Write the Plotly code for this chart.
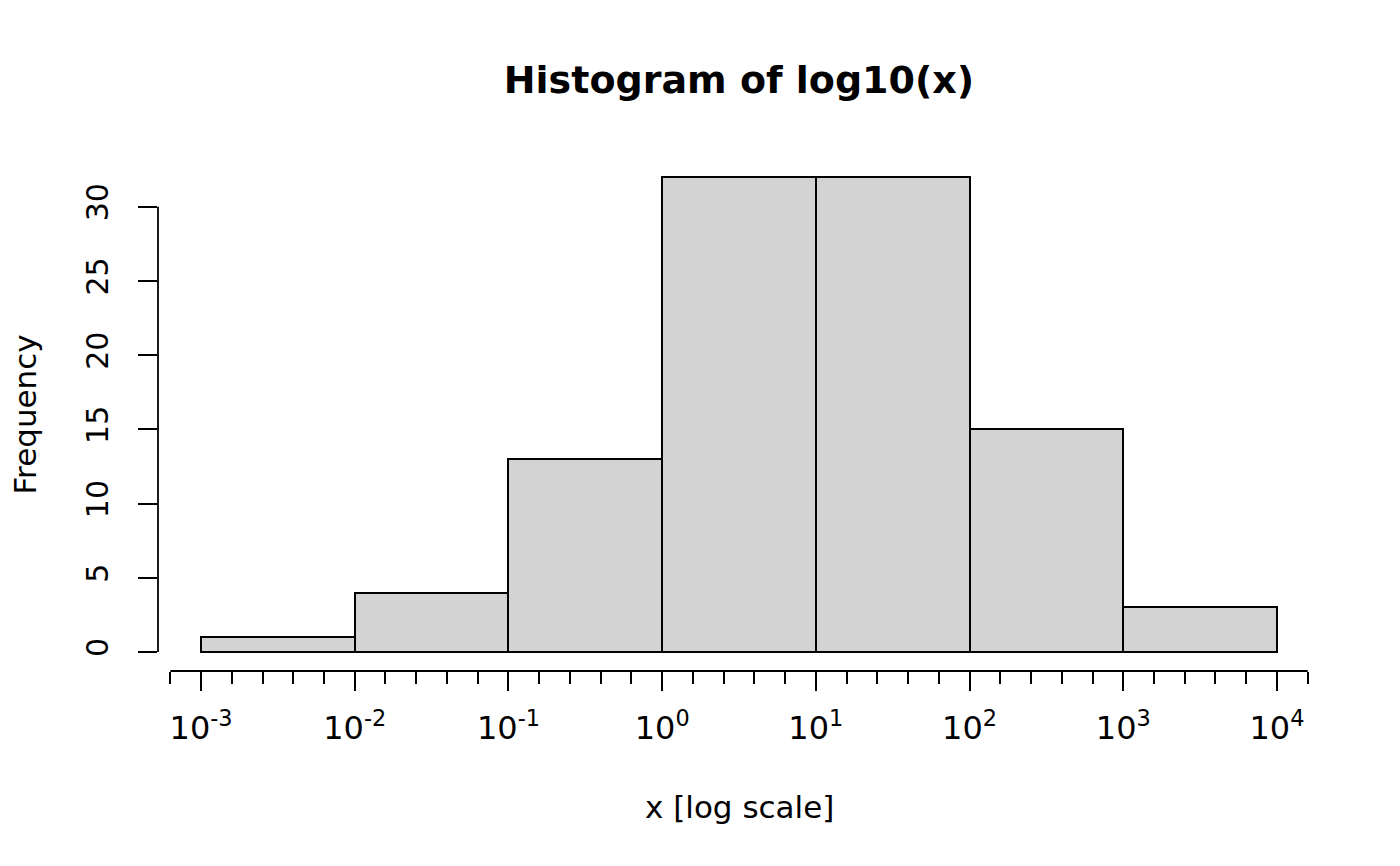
import numpy as np
import plotly.graph_objects as go

# histogram of log10(x): bin edges (in log10 units) and counts
bin_edges = [-3, -2, -1, 0, 1, 2, 3, 4]
counts = [1, 4, 13, 32, 32, 15, 3]

x_major = [-3, -2, -1, 0, 1, 2, 3, 4]
x_labels = ["10<sup>%d</sup>" % v for v in x_major]
y_ticks = [0, 5, 10, 15, 20, 25, 30]

FONT = "DejaVu Sans"

centers = [(a + b) / 2 for a, b in zip(bin_edges[:-1], bin_edges[1:])]
widths = [b - a for a, b in zip(bin_edges[:-1], bin_edges[1:])]

# minor ticks every 0.2 decades, running a bit past the end majors
minor = [round(v, 1) for v in np.arange(-3.2, 4.21, 0.2)
         if abs(v - round(v)) > 1e-6]

fig = go.Figure()
fig.add_trace(go.Bar(
    x=centers, y=counts, width=widths, base=0,
    marker=dict(color="#D3D3D3", line=dict(color="black", width=2)),
    hoverinfo="skip",
))

xr = [bin_edges[0] - 0.04 * (bin_edges[-1] - bin_edges[0]),
      bin_edges[-1] + 0.04 * (bin_edges[-1] - bin_edges[0])]
ymax = max(counts)
yr = [-0.04 * ymax, ymax * 1.04]

fig.update_layout(
    width=1400, height=866,
    margin=dict(l=150, r=88, t=150, b=203),
    paper_bgcolor="white", plot_bgcolor="white",
    font=dict(family=FONT, size=30, color="black"),
    showlegend=False,
    bargap=0,
    title=dict(text="<b>Histogram of log10(x)</b>", x=0.5, xref="paper",
               y=1 - 72 / 866, yanchor="middle",
               font=dict(family=FONT, size=38, color="black")),
    xaxis=dict(
        range=xr, showgrid=False, zeroline=False, showline=False,
        tickmode="array", tickvals=x_major, ticktext=x_labels,
        ticks="outside", ticklen=19, tickwidth=1.8, tickcolor="black",
        ticklabelstandoff=10,
        tickfont=dict(family=FONT, size=32, color="black"),
        minor=dict(tickmode="array", tickvals=minor, ticks="outside",
                   ticklen=12, tickwidth=1.8, tickcolor="black",
                   showgrid=False),
    ),
    yaxis=dict(
        range=yr, showgrid=False, zeroline=False, showline=False,
        tickmode="array", tickvals=y_ticks,
        ticks="outside", ticklen=19, tickwidth=1.8, tickcolor="black",
        tickangle=-90, ticklabelstandoff=18,
        tickfont=dict(family=FONT, size=30, color="black"),
    ),
)

# R-style axis lines spanning only the tick range
fig.add_shape(type="line", xref="paper", yref="y", x0=0, x1=0,
              y0=y_ticks[0], y1=y_ticks[-1],
              line=dict(color="black", width=1.8))
fig.add_shape(type="line", xref="x", yref="paper", y0=0, y1=0,
              x0=minor[0], x1=minor[-1],
              line=dict(color="black", width=1.8))

fig.add_annotation(text="x [log scale]", xref="paper", yref="paper",
                   x=0.5, y=0, yshift=-136, showarrow=False,
                   xanchor="center", yanchor="middle",
                   font=dict(family=FONT, size=31, color="black"))
fig.add_annotation(text="Frequency", xref="paper", yref="paper",
                   x=0, y=0.5, xshift=-134, showarrow=False, textangle=-90,
                   xanchor="center", yanchor="middle",
                   font=dict(family=FONT, size=31, color="black"))

fig.write_html("out.html")
